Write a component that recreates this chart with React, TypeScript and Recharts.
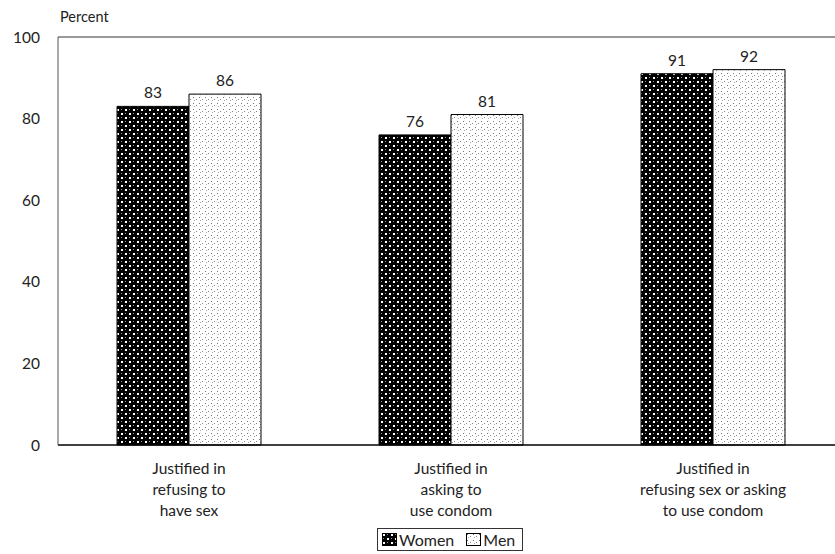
import React from 'react';
import { Bar, BarChart, LabelList, ReferenceLine, XAxis, YAxis } from 'recharts';

const categories = [
  ['Justified in', 'refusing to', 'have sex'],
  ['Justified in', 'asking to', 'use condom'],
  ['Justified in', 'refusing sex or asking', 'to use condom'],
];
const women = [83, 76, 91];
const men = [86, 81, 92];
const yTicks = [0, 20, 40, 60, 80, 100];

const FONT = 'Lato, "Open Sans", sans-serif';

const chartData = categories.map((lines, i) => ({
  name: lines.join(' '),
  lines,
  women: women[i],
  men: men[i],
}));

const CategoryTick = (props: any) => {
  const { x, y, payload } = props;
  const lines = chartData[payload.index]?.lines ?? [payload.value];
  return (
    <g transform={`translate(${x},${y})`}>
      {lines.map((line: string, i: number) => (
        <text key={i} x={0} y={21 + i * 21} textAnchor="middle" fontSize={15.5} fill="#222" fontFamily={FONT}>
          {line}
        </text>
      ))}
    </g>
  );
};

const LegendBox = () => (
  <div
    style={{
      position: 'absolute',
      left: 377,
      top: 528,
      height: 23,
      boxSizing: 'border-box',
      display: 'inline-flex',
      alignItems: 'center',
      border: '1px solid #333',
      padding: '0 7px 0 4px',
      fontFamily: FONT,
      fontSize: 16,
      color: '#222',
      background: '#fff',
    }}
  >
    <svg width={15} height={13} style={{ marginRight: 2 }}>
      <rect x={0.5} y={0.5} width={14} height={12} fill="url(#womenFill)" stroke="#000" />
    </svg>
    <span style={{ marginRight: 12 }}>Women</span>
    <svg width={15} height={13} style={{ marginRight: 2 }}>
      <rect x={0.5} y={0.5} width={14} height={12} fill="url(#menFill)" stroke="#000" />
    </svg>
    <span>Men</span>
  </div>
);

export default function App() {
  return (
    <div style={{ position: 'absolute', left: 0, top: 0, width: 835, height: 554, overflow: 'hidden', background: '#fff' }}>
      <div style={{ position: 'absolute', left: 60, top: 8, fontFamily: FONT, fontSize: 14.5, color: '#222' }}>Percent</div>
      <BarChart
        width={850}
        height={554}
        data={chartData}
        margin={{ top: 37, right: 6, bottom: 39, left: 0 }}
        barSize={72}
        barGap={0}
      >
        <defs>
          <pattern id="womenFill" width={8} height={8} patternUnits="userSpaceOnUse">
            <rect width={8} height={8} fill="#000" />
            <rect x={1} y={1} width={2} height={2} fill="#fff" />
            <rect x={5} y={5} width={2} height={2} fill="#fff" />
            <rect x={5} y={1} width={1} height={1} fill="#999" />
            <rect x={1} y={5} width={1} height={1} fill="#999" />
          </pattern>
          <pattern id="menFill" width={6} height={6} patternUnits="userSpaceOnUse">
            <rect width={6} height={6} fill="#fff" />
            <rect x={1} y={1} width={1} height={1} fill="#777" />
            <rect x={4} y={3} width={1} height={1} fill="#888" />
            <rect x={2} y={4} width={1} height={1} fill="#aaa" />
          </pattern>
        </defs>
        <XAxis
          dataKey="name"
          height={70}
          tick={<CategoryTick />}
          tickLine={false}
          axisLine={{ stroke: '#000', strokeWidth: 1.5 }}
          interval={0}
        />
        <YAxis
          width={58}
          domain={[0, 100]}
          ticks={yTicks}
          tickLine={false}
          tickMargin={12}
          axisLine={{ stroke: '#555' }}
          tick={{ fontSize: 15.5, fill: '#222', fontFamily: FONT }}
        />
        <ReferenceLine y={100} stroke="#777" strokeWidth={1.5} />
        <Bar dataKey="women" fill="url(#womenFill)" stroke="#000" strokeWidth={1} isAnimationActive={false}>
          <LabelList dataKey="women" position="top" offset={8} fontSize={15.5} fill="#222" fontFamily={FONT} />
        </Bar>
        <Bar dataKey="men" fill="url(#menFill)" stroke="#000" strokeWidth={1} isAnimationActive={false}>
          <LabelList dataKey="men" position="top" offset={8} fontSize={15.5} fill="#222" fontFamily={FONT} />
        </Bar>
      </BarChart>
      <LegendBox />
    </div>
  );
}
